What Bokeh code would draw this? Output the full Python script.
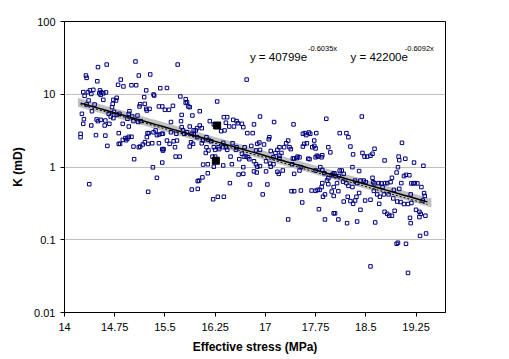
from bokeh.plotting import figure
from bokeh.models import FixedTicker, CustomJSTickFormatter, Label, Range1d
from bokeh.embed import file_html
from bokeh.resources import INLINE
import numpy as np

# ---- data ----
stress = [
    14.50, 14.63, 15.06, 15.69, 14.32, 14.33, 14.49, 15.28, 15.11, 14.84, 14.80, 14.88, 14.28, 14.35, 14.38,
    14.43, 14.53, 14.55, 14.62, 15.22, 15.43, 15.53, 15.00, 15.07, 16.72, 14.36, 14.33, 14.45, 14.58, 14.73,
    14.78, 14.77, 14.72, 14.71, 15.19, 15.20, 15.33, 15.34, 15.12, 15.13, 15.22, 15.27, 15.73, 15.81, 15.83,
    15.85, 15.87, 15.81, 16.28, 15.41, 15.46, 15.50, 15.56, 15.62, 16.02, 14.30, 14.40, 14.52, 14.58, 14.54,
    14.26, 14.41, 14.29, 14.28, 14.40, 14.48, 14.54, 14.50, 14.61, 14.66, 14.69, 14.74, 14.78, 14.82, 14.97,
    14.96, 14.94, 15.01, 15.03, 15.09, 15.10, 15.14, 15.23, 14.87, 14.96, 14.60, 14.67, 14.73, 15.75, 15.74,
    15.59, 15.75, 15.91, 15.87, 15.93, 15.98, 16.05, 16.02, 16.17, 16.38, 16.43, 16.52, 16.57, 16.59, 16.65,
    16.67, 16.92, 17.13, 17.42, 17.91, 18.44, 16.41, 16.46, 16.23, 16.29, 16.34, 16.39, 16.53, 16.73, 16.81,
    16.83, 14.24, 14.24, 14.47, 14.81, 14.87, 14.83, 14.92, 15.00, 14.91, 15.24, 15.23, 15.33, 15.36, 15.41,
    15.45, 15.59, 15.67, 15.77, 15.79, 15.83, 15.90, 15.96, 14.61, 14.64, 15.03, 15.04, 14.81, 14.94, 14.96,
    15.11, 15.13, 15.17, 15.20, 15.25, 15.26, 15.31, 15.38, 15.47, 15.41, 15.46, 15.47, 15.48, 15.57, 15.65,
    15.66, 15.72, 15.53, 15.63, 15.68, 15.89, 15.92, 15.87, 15.93, 15.98, 16.12, 16.07, 16.05, 16.15, 16.19,
    16.12, 16.15, 16.11, 16.23, 16.25, 16.31, 16.21, 16.25, 16.30, 16.37, 16.37, 16.41, 16.43, 16.51, 16.48,
    16.56, 16.57, 16.61, 16.65, 16.68, 16.71, 16.74, 16.69, 16.76, 16.79, 16.86, 16.88, 16.91, 16.92, 16.98,
    17.05, 17.06, 17.08, 17.12, 17.15, 17.18, 17.21, 17.21, 17.24, 17.28, 17.31, 17.34, 17.36, 17.38, 17.41,
    17.43, 17.47, 17.48, 17.51, 17.56, 17.58, 17.62, 17.64, 17.66, 17.70, 17.73, 17.73, 17.75, 17.76, 17.59,
    17.61, 17.56, 17.65, 17.67, 17.75, 17.77, 17.79, 17.84, 17.85, 17.94, 17.97, 18.11, 18.21, 18.24, 18.27,
    18.31, 18.45, 18.48, 18.52, 18.57, 18.60, 18.63, 18.78, 18.99, 19.00, 19.04, 19.09, 19.22, 19.36, 16.07,
    16.14, 16.23, 16.37, 16.50, 16.67, 16.83, 16.86, 16.88, 16.92, 17.01, 17.07, 17.08, 17.12, 17.21, 17.40,
    17.43, 17.51, 17.53, 17.75, 17.82, 17.85, 17.88, 17.92, 17.94, 17.99, 18.01, 18.03, 18.05, 18.10, 18.11,
    18.14, 18.17, 18.30, 18.40, 18.60, 18.61, 18.63, 18.69, 18.73, 18.75, 18.79, 18.82, 18.87, 18.89, 18.92,
    18.96, 18.98, 19.00, 19.03, 19.07, 19.10, 19.15, 19.18, 19.21, 19.23, 19.27, 19.33, 19.37, 19.38, 19.35,
    19.17, 18.97, 18.91, 18.84, 18.77, 18.71, 18.67, 18.62, 18.50, 18.47, 18.42, 18.37, 18.34, 18.30, 18.24,
    18.21, 18.16, 18.07, 18.02, 17.94, 17.85, 17.84, 17.81, 17.78, 17.75, 17.69, 17.53, 17.43, 17.39, 17.03,
    16.77, 16.47, 16.29, 16.22, 16.14, 16.06, 16.01, 15.99, 15.99, 15.90, 15.38, 15.32, 15.46, 15.25, 14.37,
    16.60, 16.67, 16.83, 16.87, 17.01, 17.18, 17.20, 17.26, 17.86, 17.89, 17.99, 18.02, 18.09, 18.17, 18.23,
    18.27, 18.31, 18.34, 18.36, 18.40, 18.49, 18.57, 18.70, 18.78, 18.82, 18.85, 18.89, 18.93, 19.02, 19.07,
    19.13, 19.18, 19.25, 19.30, 19.32, 19.39, 19.30, 19.17, 19.16, 19.31, 19.40, 18.96, 18.98, 19.10, 18.57,
    19.13, 18.22, 18.37, 18.64, 18.09, 17.89, 17.80, 18.02, 18.04, 18.42, 17.34, 17.55, 16.96, 16.38,
]
perm = [
    23.6, 25.6, 28.2, 25.6, 18.1, 16.8, 15.1, 18.7, 18.1, 15.9, 13.5, 12.8, 10.7, 10.7, 11.3,
    11.5, 11.3, 10.6, 10.6, 11.3, 12.1, 12.2, 13.3, 13.3, 15.9, 8.20, 7.23, 7.23, 8.38, 8.38,
    8.93, 8.20, 7.38, 6.64, 9.12, 7.38, 9.92, 9.60, 6.79, 7.30, 6.30, 6.30, 9.32, 8.56, 7.78,
    6.79, 6.64, 7.60, 7.95, 6.79, 6.79, 6.11, 6.11, 6.93, 5.85, 9.51, 10.1, 10.3, 10.3, 9.80,
    5.38, 5.85, 4.54, 3.92, 3.72, 4.50, 4.45, 4.27, 4.35, 5.38, 4.94, 5.73, 5.20, 5.38, 5.85,
    5.38, 4.60, 4.94, 4.27, 5.10, 4.15, 4.27, 5.98, 3.92, 3.60, 3.72, 3.92, 4.70, 5.20, 4.27,
    4.15, 3.53, 5.10, 3.60, 3.18, 3.42, 3.42, 3.72, 4.27, 4.84, 4.84, 4.45, 4.27, 4.00, 3.92,
    3.53, 4.94, 4.15, 3.85, 4.60, 4.94, 4.06, 3.60, 3.85, 3.60, 3.11, 3.18, 3.60, 2.92, 2.92,
    3.85, 2.86, 2.57, 2.74, 2.92, 2.36, 2.08, 2.33, 2.60, 2.50, 2.92, 2.57, 3.00, 3.18, 2.80,
    2.86, 3.00, 2.86, 3.18, 2.86, 3.00, 2.86, 3.18, 2.70, 1.95, 1.91, 1.28, 2.08, 2.45, 2.60,
    1.87, 1.91, 2.04, 2.19, 2.08, 2.92, 2.12, 2.74, 2.86, 2.12, 1.76, 1.68, 1.76, 2.08, 1.87,
    1.39, 1.39, 2.31, 2.26, 2.31, 2.19, 2.08, 1.91, 2.80, 2.57, 2.57, 2.31, 2.12, 2.36, 2.26,
    1.87, 1.69, 1.56, 1.87, 1.72, 1.76, 1.39, 1.39, 1.87, 2.15, 1.87, 1.87, 1.72, 2.12, 1.39,
    1.72, 1.87, 1.28, 1.52, 1.39, 1.39, 1.36, 1.87, 1.28, 1.95, 1.69, 2.08, 2.17, 1.72, 2.04,
    2.41, 2.57, 1.66, 1.36, 1.56, 1.72, 1.87, 1.43, 1.56, 1.87, 2.12, 2.31, 1.87, 1.76, 1.31,
    1.31, 1.33, 1.39, 1.36, 1.91, 2.08, 2.12, 1.30, 1.28, 1.87, 2.31, 1.95, 1.80, 2.92, 2.92,
    2.74, 2.86, 2.98, 2.86, 1.36, 1.43, 1.39, 1.36, 1.45, 1.87, 1.59, 2.92, 2.92, 2.57, 1.91,
    1.49, 1.56, 1.39, 1.39, 1.43, 1.52, 1.78, 1.23, 1.39, 1.24, 2.15, 1.30, 1.15, 1.04, 1.08,
    1.09, 1.01, 1.05, 1.09, 0.995, 1.20, 1.09, 1.01, 1.03, 1.20, 1.11, 1.01, 1.09, 1.31, 1.09,
    0.805, 0.895, 0.995, 0.895, 0.995, 0.91, 0.822, 0.652, 0.70, 0.77, 0.805, 0.822, 0.75, 0.75, 0.895,
    0.895, 0.805, 0.995, 0.88, 0.71, 0.618, 0.595, 0.60, 0.595, 0.528, 0.60, 0.60, 0.62, 0.71, 0.485,
    0.84, 0.995, 0.50, 0.60, 0.75, 0.78, 0.77, 0.595, 0.595, 0.60, 0.595, 0.53, 0.437, 0.40, 0.346,
    0.42, 0.335, 0.37, 0.42, 0.42, 0.39, 0.42, 0.47, 0.62, 0.65, 0.65, 0.60, 0.65, 0.53, 0.55,
    0.60, 0.63, 0.60, 0.53, 0.58, 0.60, 0.53, 0.485, 0.485, 0.47, 0.475, 0.475, 0.465, 0.465, 0.575,
    0.575, 0.60, 0.39, 0.36, 0.82, 0.72, 0.65, 0.64, 0.50, 0.49, 0.71, 0.99, 1.15, 0.456, 0.58,
    0.79, 0.805, 0.87, 0.84, 0.87, 0.86, 0.805, 0.895, 0.39, 0.42, 0.46, 0.40, 0.465, 0.335, 0.39,
    0.34, 0.312, 0.346, 0.39, 0.44, 0.346, 0.355, 0.312, 0.242, 0.227, 0.214, 0.214, 0.25, 0.33, 0.31,
    0.31, 0.32, 0.258, 0.242, 0.227, 0.214, 0.205, 0.169, 0.20, 0.113, 0.122, 0.088, 0.091, 0.088, 0.043,
    0.035, 0.169, 0.178, 0.173, 0.19, 0.19, 0.263, 0.231, 0.231, 0.258, 0.19, 0.325, 0.42, 0.39,
]

# two highlighted samples
big_stress = [16.28, 16.26]
big_perm = [3.72, 1.22]

# fitted exponential trends: y = a * exp(b * x)
fit1_a, fit1_b = 40799, -0.6035
fit2_a, fit2_b = 42200, -0.6092
fit_x_start, fit_x_end = 14.24, 19.42
band_x_start, band_x_end = 14.20, 19.48
band_factor = 1.15

x_ticks = [14, 14.75, 15.5, 16.25, 17, 17.75, 18.5, 19.25]
y_ticks = [0.01, 0.1, 1, 10, 100]

FONT = "Liberation Sans"

p = figure(width=509, height=359, y_axis_type="log",
           x_range=Range1d(14, 19.69), y_range=Range1d(0.01, 100),
           output_backend="svg", toolbar_location=None,
           min_border_left=64, min_border_right=64,
           min_border_top=21, min_border_bottom=47)

p.background_fill_color = "white"
p.border_fill_color = "white"
p.outline_line_color = "black"
p.outline_line_width = 1

# grey band around the fit
bx = np.linspace(band_x_start, band_x_end, 60)
bf = fit1_a * np.exp(fit1_b * bx)
p.varea(x=bx, y1=bf / band_factor, y2=bf * band_factor, fill_color="#c0c0c0", fill_alpha=1.0)

# data points
p.scatter(stress, perm, marker="square", size=3.5, line_color="#000080",
          line_width=1, fill_color=None)

# big black squares
p.scatter(big_stress, big_perm, marker="square", size=7, line_color="black",
          fill_color="black")

# trend lines
fx = np.linspace(fit_x_start, fit_x_end, 60)
p.line(fx, fit1_a * np.exp(fit1_b * fx), line_color="black", line_width=1.5)
p.line(fx, fit2_a * np.exp(fit2_b * fx), line_color="black", line_width=1, line_dash="2 2")

# axes
p.xaxis.ticker = FixedTicker(ticks=x_ticks)
p.xaxis.formatter = CustomJSTickFormatter(code="return String(Math.round(tick*100)/100);")
p.yaxis.ticker = FixedTicker(ticks=y_ticks)
p.yaxis.formatter = CustomJSTickFormatter(code="return String(tick);")
for ax in (p.xaxis[0], p.yaxis[0]):
    ax.axis_line_color = "black"
    ax.major_tick_line_color = "black"
    ax.major_tick_out = 4
    ax.major_tick_in = 0
    ax.minor_tick_line_color = None
    ax.major_label_text_font = FONT
    ax.major_label_text_font_size = "11px"
    ax.major_label_text_color = "black"
    ax.axis_label_text_font = FONT
    ax.axis_label_text_font_size = "12px"
    ax.axis_label_text_font_style = "bold"
    ax.axis_label_text_color = "black"

p.xaxis.axis_label = "Effective stress (MPa)"
p.yaxis.axis_label = "K (mD)"
p.xaxis.major_label_standoff = 6
p.xaxis.axis_label_standoff = 6
p.yaxis.major_label_standoff = 5
p.yaxis.axis_label_standoff = 6

p.xgrid.grid_line_color = None
p.ygrid.ticker = FixedTicker(ticks=y_ticks)
p.ygrid.grid_line_color = "#c0c0c0"
p.ygrid.grid_line_width = 1

# equation annotations
eq_main_size = "11.5px"
eq_sup_size = "7.5px"
p.add_layout(Label(x=16.769, y=33.0, text="y = 40799e", text_font=FONT,
                   text_font_size=eq_main_size, text_color="black", text_baseline="alphabetic"))
p.add_layout(Label(x=17.635, y=42.1, text="-0.6035x", text_font=FONT,
                   text_font_size=eq_sup_size, text_color="black", text_baseline="alphabetic"))
p.add_layout(Label(x=18.273, y=33.0, text="y = 42200e", text_font=FONT,
                   text_font_size=eq_main_size, text_color="black", text_baseline="alphabetic"))
p.add_layout(Label(x=19.080, y=42.1, text="-0.6092x", text_font=FONT,
                   text_font_size=eq_sup_size, text_color="black", text_baseline="alphabetic"))

open("out.html", "w").write(file_html(p, INLINE))
